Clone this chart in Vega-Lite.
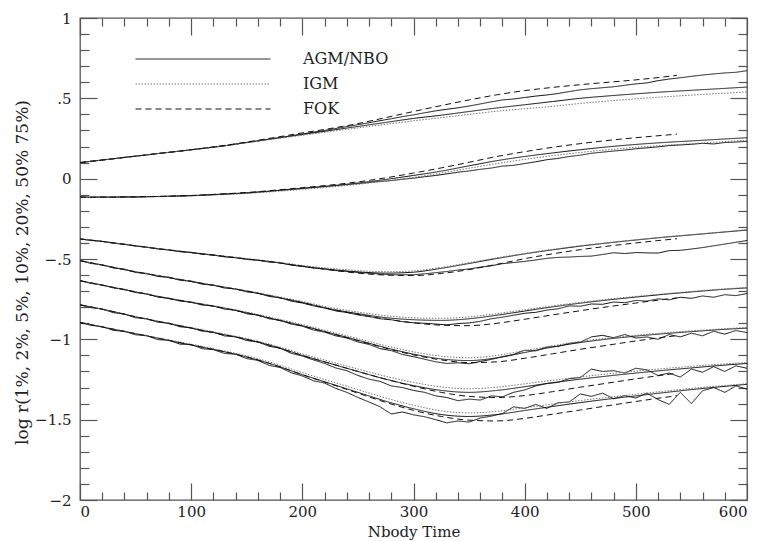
{
"$schema": "https://vega.github.io/schema/vega-lite/v6.json",
"width": 667, "height": 482,
"autosize": {"type": "none"},
"padding": {"left": 80, "top": 18, "right": 16, "bottom": 41},
"background": "white",
"config": {
  "view": {"stroke": "#555", "strokeWidth": 1.3},
  "font": "DejaVu Serif",
  "axis": {"grid": false, "domain": false, "tickColor": "#555", "tickWidth": 1.2, "labelFont": "DejaVu Serif", "titleFont": "DejaVu Serif", "labelColor": "#222", "titleColor": "#222", "labelFontSize": 15, "titleFontSize": 17, "titleFontWeight": "normal"},
  "legend": {"orient": "none", "legendX": 115, "legendY": 33, "symbolType": "M-10,0H10", "symbolSize": 182, "symbolStrokeWidth": 1, "labelOffset": 92, "labelFontSize": 16, "labelFont": "DejaVu Serif", "labelColor": "#222", "rowPadding": 9, "padding": 0}
},
"data": {"values": [
{"s":"NBO","m":"AGM/NBO","t":0,"p75":0.100,"p50":-0.115,"p20":-0.375,"p10":-0.51,"p5":-0.635,"p2":-0.785,"p1":-0.895},
{"s":"NBO","m":"AGM/NBO","t":10,"p75":0.109,"p50":-0.117,"p20":-0.385,"p10":-0.528,"p5":-0.652,"p2":-0.803,"p1":-0.913},
{"s":"NBO","m":"AGM/NBO","t":20,"p75":0.116,"p50":-0.114,"p20":-0.390,"p10":-0.536,"p5":-0.661,"p2":-0.811,"p1":-0.921},
{"s":"NBO","m":"AGM/NBO","t":30,"p75":0.124,"p50":-0.116,"p20":-0.402,"p10":-0.556,"p5":-0.680,"p2":-0.834,"p1":-0.944},
{"s":"NBO","m":"AGM/NBO","t":40,"p75":0.133,"p50":-0.113,"p20":-0.408,"p10":-0.563,"p5":-0.689,"p2":-0.842,"p1":-0.950},
{"s":"NBO","m":"AGM/NBO","t":50,"p75":0.140,"p50":-0.115,"p20":-0.420,"p10":-0.584,"p5":-0.709,"p2":-0.866,"p1":-0.972},
{"s":"NBO","m":"AGM/NBO","t":60,"p75":0.148,"p50":-0.112,"p20":-0.426,"p10":-0.590,"p5":-0.716,"p2":-0.871,"p1":-0.976},
{"s":"NBO","m":"AGM/NBO","t":70,"p75":0.157,"p50":-0.111,"p20":-0.438,"p10":-0.609,"p5":-0.737,"p2":-0.894,"p1":-1.002},
{"s":"NBO","m":"AGM/NBO","t":80,"p75":0.164,"p50":-0.110,"p20":-0.443,"p10":-0.613,"p5":-0.744,"p2":-0.899,"p1":-1.006},
{"s":"NBO","m":"AGM/NBO","t":90,"p75":0.171,"p50":-0.108,"p20":-0.455,"p10":-0.633,"p5":-0.762,"p2":-0.922,"p1":-1.030},
{"s":"NBO","m":"AGM/NBO","t":100,"p75":0.180,"p50":-0.106,"p20":-0.459,"p10":-0.637,"p5":-0.768,"p2":-0.928,"p1":-1.032},
{"s":"NBO","m":"AGM/NBO","t":110,"p75":0.188,"p50":-0.104,"p20":-0.470,"p10":-0.657,"p5":-0.787,"p2":-0.950,"p1":-1.058},
{"s":"NBO","m":"AGM/NBO","t":120,"p75":0.197,"p50":-0.100,"p20":-0.475,"p10":-0.662,"p5":-0.792,"p2":-0.955,"p1":-1.064},
{"s":"NBO","m":"AGM/NBO","t":130,"p75":0.205,"p50":-0.097,"p20":-0.487,"p10":-0.681,"p5":-0.812,"p2":-0.979,"p1":-1.088},
{"s":"NBO","m":"AGM/NBO","t":140,"p75":0.215,"p50":-0.093,"p20":-0.491,"p10":-0.686,"p5":-0.818,"p2":-0.984,"p1":-1.092},
{"s":"NBO","m":"AGM/NBO","t":150,"p75":0.226,"p50":-0.090,"p20":-0.503,"p10":-0.705,"p5":-0.841,"p2":-1.008,"p1":-1.120},
{"s":"NBO","m":"AGM/NBO","t":160,"p75":0.235,"p50":-0.084,"p20":-0.507,"p10":-0.712,"p5":-0.848,"p2":-1.016,"p1":-1.131},
{"s":"NBO","m":"AGM/NBO","t":170,"p75":0.246,"p50":-0.079,"p20":-0.519,"p10":-0.733,"p5":-0.872,"p2":-1.043,"p1":-1.162},
{"s":"NBO","m":"AGM/NBO","t":180,"p75":0.256,"p50":-0.072,"p20":-0.524,"p10":-0.741,"p5":-0.881,"p2":-1.055,"p1":-1.175},
{"s":"NBO","m":"AGM/NBO","t":190,"p75":0.267,"p50":-0.067,"p20":-0.538,"p10":-0.762,"p5":-0.905,"p2":-1.087,"p1":-1.208},
{"s":"NBO","m":"AGM/NBO","t":200,"p75":0.278,"p50":-0.061,"p20":-0.546,"p10":-0.774,"p5":-0.918,"p2":-1.104,"p1":-1.228},
{"s":"NBO","m":"AGM/NBO","t":210,"p75":0.289,"p50":-0.055,"p20":-0.556,"p10":-0.792,"p5":-0.942,"p2":-1.128,"p1":-1.258},
{"s":"NBO","m":"AGM/NBO","t":220,"p75":0.300,"p50":-0.049,"p20":-0.562,"p10":-0.805,"p5":-0.955,"p2":-1.150,"p1":-1.272},
{"s":"NBO","m":"AGM/NBO","t":230,"p75":0.312,"p50":-0.043,"p20":-0.572,"p10":-0.823,"p5":-0.978,"p2":-1.178,"p1":-1.305},
{"s":"NBO","m":"AGM/NBO","t":240,"p75":0.324,"p50":-0.037,"p20":-0.577,"p10":-0.833,"p5":-0.992,"p2":-1.195,"p1":-1.330},
{"s":"NBO","m":"AGM/NBO","t":250,"p75":0.336,"p50":-0.031,"p20":-0.584,"p10":-0.848,"p5":-1.016,"p2":-1.225,"p1":-1.362},
{"s":"NBO","m":"AGM/NBO","t":260,"p75":0.348,"p50":-0.024,"p20":-0.588,"p10":-0.858,"p5":-1.032,"p2":-1.248,"p1":-1.390},
{"s":"NBO","m":"AGM/NBO","t":270,"p75":0.361,"p50":-0.017,"p20":-0.594,"p10":-0.872,"p5":-1.058,"p2":-1.262,"p1":-1.420},
{"s":"NBO","m":"AGM/NBO","t":280,"p75":0.373,"p50":-0.012,"p20":-0.598,"p10":-0.878,"p5":-1.070,"p2":-1.290,"p1":-1.465},
{"s":"NBO","m":"AGM/NBO","t":290,"p75":0.386,"p50":-0.004,"p20":-0.598,"p10":-0.890,"p5":-1.094,"p2":-1.300,"p1":-1.452},
{"s":"NBO","m":"AGM/NBO","t":300,"p75":0.397,"p50":0.003,"p20":-0.598,"p10":-0.897,"p5":-1.108,"p2":-1.318,"p1":-1.470},
{"s":"NBO","m":"AGM/NBO","t":310,"p75":0.410,"p50":0.012,"p20":-0.592,"p10":-0.900,"p5":-1.124,"p2":-1.330,"p1":-1.482},
{"s":"NBO","m":"AGM/NBO","t":320,"p75":0.422,"p50":0.020,"p20":-0.585,"p10":-0.905,"p5":-1.140,"p2":-1.352,"p1":-1.500},
{"s":"NBO","m":"AGM/NBO","t":330,"p75":0.432,"p50":0.030,"p20":-0.578,"p10":-0.910,"p5":-1.150,"p2":-1.362,"p1":-1.520},
{"s":"NBO","m":"AGM/NBO","t":340,"p75":0.441,"p50":0.040,"p20":-0.569,"p10":-0.902,"p5":-1.146,"p2":-1.382,"p1":-1.508},
{"s":"NBO","m":"AGM/NBO","t":350,"p75":0.452,"p50":0.048,"p20":-0.562,"p10":-0.898,"p5":-1.152,"p2":-1.372,"p1":-1.515},
{"s":"NBO","m":"AGM/NBO","t":360,"p75":0.465,"p50":0.058,"p20":-0.551,"p10":-0.888,"p5":-1.138,"p2":-1.378,"p1":-1.490},
{"s":"NBO","m":"AGM/NBO","t":370,"p75":0.478,"p50":0.066,"p20":-0.542,"p10":-0.872,"p5":-1.125,"p2":-1.352,"p1":-1.478},
{"s":"NBO","m":"AGM/NBO","t":380,"p75":0.490,"p50":0.078,"p20":-0.529,"p10":-0.862,"p5":-1.108,"p2":-1.358,"p1":-1.462},
{"s":"NBO","m":"AGM/NBO","t":390,"p75":0.496,"p50":0.083,"p20":-0.522,"p10":-0.850,"p5":-1.094,"p2":-1.330,"p1":-1.420},
{"s":"NBO","m":"AGM/NBO","t":400,"p75":0.505,"p50":0.094,"p20":-0.515,"p10":-0.838,"p5":-1.068,"p2":-1.315,"p1":-1.430},
{"s":"NBO","m":"AGM/NBO","t":410,"p75":0.514,"p50":0.105,"p20":-0.506,"p10":-0.832,"p5":-1.072,"p2":-1.290,"p1":-1.405},
{"s":"NBO","m":"AGM/NBO","t":420,"p75":0.521,"p50":0.118,"p20":-0.496,"p10":-0.818,"p5":-1.048,"p2":-1.275,"p1":-1.430},
{"s":"NBO","m":"AGM/NBO","t":430,"p75":0.530,"p50":0.126,"p20":-0.490,"p10":-0.810,"p5":-1.044,"p2":-1.268,"p1":-1.395},
{"s":"NBO","m":"AGM/NBO","t":440,"p75":0.542,"p50":0.138,"p20":-0.488,"p10":-0.792,"p5":-1.025,"p2":-1.245,"p1":-1.390},
{"s":"NBO","m":"AGM/NBO","t":450,"p75":0.553,"p50":0.146,"p20":-0.484,"p10":-0.794,"p5":-1.018,"p2":-1.238,"p1":-1.340},
{"s":"NBO","m":"AGM/NBO","t":460,"p75":0.560,"p50":0.158,"p20":-0.482,"p10":-0.780,"p5":-0.985,"p2":-1.185,"p1":-1.355},
{"s":"NBO","m":"AGM/NBO","t":470,"p75":0.566,"p50":0.165,"p20":-0.472,"p10":-0.782,"p5":-0.975,"p2":-1.200,"p1":-1.335},
{"s":"NBO","m":"AGM/NBO","t":480,"p75":0.572,"p50":0.172,"p20":-0.461,"p10":-0.768,"p5":-0.990,"p2":-1.195,"p1":-1.370},
{"s":"NBO","m":"AGM/NBO","t":490,"p75":0.581,"p50":0.178,"p20":-0.466,"p10":-0.772,"p5":-0.970,"p2":-1.210,"p1":-1.350},
{"s":"NBO","m":"AGM/NBO","t":500,"p75":0.590,"p50":0.186,"p20":-0.460,"p10":-0.758,"p5":-0.992,"p2":-1.180,"p1":-1.365},
{"s":"NBO","m":"AGM/NBO","t":510,"p75":0.596,"p50":0.192,"p20":-0.462,"p10":-0.762,"p5":-0.985,"p2":-1.190,"p1":-1.335},
{"s":"NBO","m":"AGM/NBO","t":520,"p75":0.610,"p50":0.198,"p20":-0.463,"p10":-0.748,"p5":-1.000,"p2":-1.225,"p1":-1.375},
{"s":"NBO","m":"AGM/NBO","t":530,"p75":0.620,"p50":0.206,"p20":-0.448,"p10":-0.754,"p5":-0.970,"p2":-1.210,"p1":-1.405},
{"s":"NBO","m":"AGM/NBO","t":540,"p75":0.628,"p50":0.210,"p20":-0.446,"p10":-0.738,"p5":-0.985,"p2":-1.235,"p1":-1.330},
{"s":"NBO","m":"AGM/NBO","t":550,"p75":0.637,"p50":0.214,"p20":-0.438,"p10":-0.745,"p5":-0.962,"p2":-1.185,"p1":-1.400},
{"s":"NBO","m":"AGM/NBO","t":560,"p75":0.645,"p50":0.220,"p20":-0.429,"p10":-0.730,"p5":-0.978,"p2":-1.205,"p1":-1.320},
{"s":"NBO","m":"AGM/NBO","t":570,"p75":0.652,"p50":0.216,"p20":-0.418,"p10":-0.738,"p5":-0.950,"p2":-1.170,"p1":-1.300},
{"s":"NBO","m":"AGM/NBO","t":580,"p75":0.658,"p50":0.225,"p20":-0.407,"p10":-0.722,"p5":-0.968,"p2":-1.200,"p1":-1.330},
{"s":"NBO","m":"AGM/NBO","t":590,"p75":0.662,"p50":0.228,"p20":-0.396,"p10":-0.728,"p5":-0.945,"p2":-1.165,"p1":-1.290},
{"s":"NBO","m":"AGM/NBO","t":600,"p75":0.672,"p50":0.232,"p20":-0.385,"p10":-0.715,"p5":-0.958,"p2":-1.180,"p1":-1.310},
{"s":"AGM","m":"AGM/NBO","t":0,"p75":0.10,"p50":-0.115,"p20":-0.375,"p10":-0.51,"p5":-0.635,"p2":-0.785,"p1":-0.895},
{"s":"AGM","m":"AGM/NBO","t":25,"p75":0.12,"p50":-0.115,"p20":-0.395,"p10":-0.545,"p5":-0.67,"p2":-0.82,"p1":-0.93},
{"s":"AGM","m":"AGM/NBO","t":50,"p75":0.14,"p50":-0.113,"p20":-0.418,"p10":-0.58,"p5":-0.705,"p2":-0.86,"p1":-0.965},
{"s":"AGM","m":"AGM/NBO","t":75,"p75":0.16,"p50":-0.11,"p20":-0.44,"p10":-0.61,"p5":-0.74,"p2":-0.895,"p1":-1.0},
{"s":"AGM","m":"AGM/NBO","t":100,"p75":0.18,"p50":-0.105,"p20":-0.46,"p10":-0.64,"p5":-0.77,"p2":-0.93,"p1":-1.035},
{"s":"AGM","m":"AGM/NBO","t":125,"p75":0.20,"p50":-0.097,"p20":-0.48,"p10":-0.67,"p5":-0.80,"p2":-0.965,"p1":-1.07},
{"s":"AGM","m":"AGM/NBO","t":150,"p75":0.225,"p50":-0.088,"p20":-0.50,"p10":-0.70,"p5":-0.835,"p2":-1.0,"p1":-1.11},
{"s":"AGM","m":"AGM/NBO","t":175,"p75":0.25,"p50":-0.075,"p20":-0.52,"p10":-0.735,"p5":-0.875,"p2":-1.045,"p1":-1.16},
{"s":"AGM","m":"AGM/NBO","t":200,"p75":0.275,"p50":-0.06,"p20":-0.545,"p10":-0.77,"p5":-0.915,"p2":-1.1,"p1":-1.22},
{"s":"AGM","m":"AGM/NBO","t":225,"p75":0.30,"p50":-0.045,"p20":-0.565,"p10":-0.81,"p5":-0.96,"p2":-1.15,"p1":-1.275},
{"s":"AGM","m":"AGM/NBO","t":250,"p75":0.325,"p50":-0.027,"p20":-0.58,"p10":-0.84,"p5":-1.005,"p2":-1.2,"p1":-1.33},
{"s":"AGM","m":"AGM/NBO","t":275,"p75":0.35,"p50":-0.005,"p20":-0.588,"p10":-0.865,"p5":-1.052,"p2":-1.248,"p1":-1.385},
{"s":"AGM","m":"AGM/NBO","t":300,"p75":0.375,"p50":0.02,"p20":-0.582,"p10":-0.878,"p5":-1.092,"p2":-1.288,"p1":-1.432},
{"s":"AGM","m":"AGM/NBO","t":325,"p75":0.395,"p50":0.047,"p20":-0.558,"p10":-0.882,"p5":-1.122,"p2":-1.318,"p1":-1.468},
{"s":"AGM","m":"AGM/NBO","t":350,"p75":0.418,"p50":0.08,"p20":-0.528,"p10":-0.872,"p5":-1.132,"p2":-1.33,"p1":-1.48},
{"s":"AGM","m":"AGM/NBO","t":375,"p75":0.44,"p50":0.112,"p20":-0.497,"p10":-0.85,"p5":-1.115,"p2":-1.318,"p1":-1.468},
{"s":"AGM","m":"AGM/NBO","t":400,"p75":0.46,"p50":0.138,"p20":-0.468,"p10":-0.824,"p5":-1.082,"p2":-1.295,"p1":-1.443},
{"s":"AGM","m":"AGM/NBO","t":425,"p75":0.48,"p50":0.16,"p20":-0.443,"p10":-0.798,"p5":-1.048,"p2":-1.27,"p1":-1.418},
{"s":"AGM","m":"AGM/NBO","t":450,"p75":0.50,"p50":0.18,"p20":-0.42,"p10":-0.775,"p5":-1.02,"p2":-1.248,"p1":-1.394},
{"s":"AGM","m":"AGM/NBO","t":475,"p75":0.515,"p50":0.198,"p20":-0.40,"p10":-0.755,"p5":-0.998,"p2":-1.228,"p1":-1.372},
{"s":"AGM","m":"AGM/NBO","t":500,"p75":0.528,"p50":0.213,"p20":-0.382,"p10":-0.737,"p5":-0.98,"p2":-1.21,"p1":-1.352},
{"s":"AGM","m":"AGM/NBO","t":525,"p75":0.54,"p50":0.225,"p20":-0.365,"p10":-0.72,"p5":-0.965,"p2":-1.193,"p1":-1.332},
{"s":"AGM","m":"AGM/NBO","t":550,"p75":0.55,"p50":0.235,"p20":-0.35,"p10":-0.705,"p5":-0.952,"p2":-1.178,"p1":-1.313},
{"s":"AGM","m":"AGM/NBO","t":575,"p75":0.56,"p50":0.245,"p20":-0.335,"p10":-0.691,"p5":-0.94,"p2":-1.163,"p1":-1.296},
{"s":"AGM","m":"AGM/NBO","t":600,"p75":0.57,"p50":0.255,"p20":-0.32,"p10":-0.68,"p5":-0.93,"p2":-1.15,"p1":-1.28},
{"s":"IGM","m":"IGM","t":0,"p75":0.10,"p50":-0.117,"p20":-0.375,"p10":-0.51,"p5":-0.635,"p2":-0.785,"p1":-0.895},
{"s":"IGM","m":"IGM","t":25,"p75":0.12,"p50":-0.117,"p20":-0.395,"p10":-0.544,"p5":-0.669,"p2":-0.819,"p1":-0.929},
{"s":"IGM","m":"IGM","t":50,"p75":0.14,"p50":-0.115,"p20":-0.417,"p10":-0.578,"p5":-0.703,"p2":-0.858,"p1":-0.963},
{"s":"IGM","m":"IGM","t":75,"p75":0.16,"p50":-0.112,"p20":-0.438,"p10":-0.608,"p5":-0.737,"p2":-0.892,"p1":-0.997},
{"s":"IGM","m":"IGM","t":100,"p75":0.18,"p50":-0.107,"p20":-0.458,"p10":-0.638,"p5":-0.767,"p2":-0.926,"p1":-1.03},
{"s":"IGM","m":"IGM","t":125,"p75":0.20,"p50":-0.10,"p20":-0.478,"p10":-0.668,"p5":-0.797,"p2":-0.96,"p1":-1.065},
{"s":"IGM","m":"IGM","t":150,"p75":0.223,"p50":-0.092,"p20":-0.497,"p10":-0.697,"p5":-0.83,"p2":-0.995,"p1":-1.103},
{"s":"IGM","m":"IGM","t":175,"p75":0.247,"p50":-0.08,"p20":-0.517,"p10":-0.73,"p5":-0.868,"p2":-1.038,"p1":-1.15},
{"s":"IGM","m":"IGM","t":200,"p75":0.27,"p50":-0.067,"p20":-0.54,"p10":-0.764,"p5":-0.908,"p2":-1.09,"p1":-1.207},
{"s":"IGM","m":"IGM","t":225,"p75":0.293,"p50":-0.052,"p20":-0.558,"p10":-0.802,"p5":-0.952,"p2":-1.138,"p1":-1.26},
{"s":"IGM","m":"IGM","t":250,"p75":0.316,"p50":-0.035,"p20":-0.572,"p10":-0.83,"p5":-0.995,"p2":-1.185,"p1":-1.313},
{"s":"IGM","m":"IGM","t":275,"p75":0.338,"p50":-0.015,"p20":-0.579,"p10":-0.853,"p5":-1.04,"p2":-1.23,"p1":-1.365},
{"s":"IGM","m":"IGM","t":300,"p75":0.36,"p50":0.008,"p20":-0.574,"p10":-0.866,"p5":-1.078,"p2":-1.268,"p1":-1.41},
{"s":"IGM","m":"IGM","t":325,"p75":0.38,"p50":0.035,"p20":-0.552,"p10":-0.869,"p5":-1.105,"p2":-1.296,"p1":-1.445},
{"s":"IGM","m":"IGM","t":350,"p75":0.40,"p50":0.065,"p20":-0.523,"p10":-0.86,"p5":-1.115,"p2":-1.308,"p1":-1.458},
{"s":"IGM","m":"IGM","t":375,"p75":0.42,"p50":0.094,"p20":-0.493,"p10":-0.84,"p5":-1.1,"p2":-1.298,"p1":-1.448},
{"s":"IGM","m":"IGM","t":400,"p75":0.435,"p50":0.12,"p20":-0.465,"p10":-0.816,"p5":-1.07,"p2":-1.277,"p1":-1.426},
{"s":"IGM","m":"IGM","t":425,"p75":0.45,"p50":0.143,"p20":-0.44,"p10":-0.792,"p5":-1.04,"p2":-1.255,"p1":-1.403},
{"s":"IGM","m":"IGM","t":450,"p75":0.468,"p50":0.163,"p20":-0.418,"p10":-0.77,"p5":-1.013,"p2":-1.234,"p1":-1.381},
{"s":"IGM","m":"IGM","t":475,"p75":0.483,"p50":0.18,"p20":-0.398,"p10":-0.75,"p5":-0.992,"p2":-1.215,"p1":-1.361},
{"s":"IGM","m":"IGM","t":500,"p75":0.497,"p50":0.195,"p20":-0.38,"p10":-0.733,"p5":-0.975,"p2":-1.198,"p1":-1.342},
{"s":"IGM","m":"IGM","t":525,"p75":0.509,"p50":0.207,"p20":-0.363,"p10":-0.717,"p5":-0.96,"p2":-1.182,"p1":-1.323},
{"s":"IGM","m":"IGM","t":550,"p75":0.52,"p50":0.218,"p20":-0.348,"p10":-0.702,"p5":-0.947,"p2":-1.168,"p1":-1.305},
{"s":"IGM","m":"IGM","t":575,"p75":0.53,"p50":0.229,"p20":-0.333,"p10":-0.688,"p5":-0.936,"p2":-1.155,"p1":-1.29},
{"s":"IGM","m":"IGM","t":600,"p75":0.54,"p50":0.24,"p20":-0.318,"p10":-0.677,"p5":-0.926,"p2":-1.145,"p1":-1.276},
{"s":"FOK","m":"FOK","t":0,"p75":0.10,"p50":-0.115,"p20":-0.375,"p10":-0.51,"p5":-0.635,"p2":-0.785,"p1":-0.895},
{"s":"FOK","m":"FOK","t":25,"p75":0.12,"p50":-0.115,"p20":-0.395,"p10":-0.545,"p5":-0.67,"p2":-0.82,"p1":-0.93},
{"s":"FOK","m":"FOK","t":50,"p75":0.14,"p50":-0.113,"p20":-0.418,"p10":-0.58,"p5":-0.705,"p2":-0.86,"p1":-0.965},
{"s":"FOK","m":"FOK","t":75,"p75":0.16,"p50":-0.11,"p20":-0.44,"p10":-0.61,"p5":-0.74,"p2":-0.895,"p1":-1.0},
{"s":"FOK","m":"FOK","t":100,"p75":0.18,"p50":-0.105,"p20":-0.46,"p10":-0.64,"p5":-0.77,"p2":-0.93,"p1":-1.035},
{"s":"FOK","m":"FOK","t":125,"p75":0.202,"p50":-0.096,"p20":-0.48,"p10":-0.67,"p5":-0.80,"p2":-0.965,"p1":-1.07},
{"s":"FOK","m":"FOK","t":150,"p75":0.228,"p50":-0.086,"p20":-0.50,"p10":-0.70,"p5":-0.835,"p2":-1.0,"p1":-1.11},
{"s":"FOK","m":"FOK","t":175,"p75":0.256,"p50":-0.072,"p20":-0.52,"p10":-0.735,"p5":-0.875,"p2":-1.045,"p1":-1.16},
{"s":"FOK","m":"FOK","t":200,"p75":0.285,"p50":-0.056,"p20":-0.545,"p10":-0.772,"p5":-0.917,"p2":-1.1,"p1":-1.22},
{"s":"FOK","m":"FOK","t":225,"p75":0.312,"p50":-0.04,"p20":-0.568,"p10":-0.812,"p5":-0.962,"p2":-1.15,"p1":-1.277},
{"s":"FOK","m":"FOK","t":250,"p75":0.343,"p50":-0.02,"p20":-0.588,"p10":-0.845,"p5":-1.008,"p2":-1.2,"p1":-1.335},
{"s":"FOK","m":"FOK","t":275,"p75":0.38,"p50":0.005,"p20":-0.60,"p10":-0.874,"p5":-1.055,"p2":-1.248,"p1":-1.392},
{"s":"FOK","m":"FOK","t":300,"p75":0.418,"p50":0.035,"p20":-0.603,"p10":-0.897,"p5":-1.097,"p2":-1.292,"p1":-1.442},
{"s":"FOK","m":"FOK","t":325,"p75":0.455,"p50":0.067,"p20":-0.59,"p10":-0.912,"p5":-1.128,"p2":-1.33,"p1":-1.48},
{"s":"FOK","m":"FOK","t":350,"p75":0.49,"p50":0.102,"p20":-0.566,"p10":-0.915,"p5":-1.145,"p2":-1.355,"p1":-1.503},
{"s":"FOK","m":"FOK","t":375,"p75":0.522,"p50":0.138,"p20":-0.533,"p10":-0.9,"p5":-1.14,"p2":-1.362,"p1":-1.508},
{"s":"FOK","m":"FOK","t":400,"p75":0.548,"p50":0.168,"p20":-0.498,"p10":-0.875,"p5":-1.118,"p2":-1.35,"p1":-1.492},
{"s":"FOK","m":"FOK","t":425,"p75":0.568,"p50":0.195,"p20":-0.468,"p10":-0.848,"p5":-1.09,"p2":-1.326,"p1":-1.466},
{"s":"FOK","m":"FOK","t":450,"p75":0.585,"p50":0.218,"p20":-0.442,"p10":-0.822,"p5":-1.062,"p2":-1.298,"p1":-1.44},
{"s":"FOK","m":"FOK","t":475,"p75":0.60,"p50":0.238,"p20":-0.42,"p10":-0.797,"p5":-1.036,"p2":-1.272,"p1":-1.413},
{"s":"FOK","m":"FOK","t":500,"p75":0.615,"p50":0.255,"p20":-0.4,"p10":-0.774,"p5":-1.01,"p2":-1.246,"p1":-1.387},
{"s":"FOK","m":"FOK","t":525,"p75":0.633,"p50":0.27,"p20":-0.382,"p10":-0.752,"p5":-0.987,"p2":-1.222,"p1":-1.362},
{"s":"FOK","m":"FOK","t":537,"p75":0.643,"p50":0.277,"p20":-0.374,"p10":-0.742,"p5":-0.977,"p2":-1.211,"p1":-1.351}
]},
"transform": [{"fold": ["p1","p2","p5","p10","p20","p50","p75"], "as": ["pct","y"]}],
"layer": [
  {
    "transform": [{"filter": "datum.s === 'NBO'"}],
    "mark": {"type": "line", "strokeWidth": 1, "interpolate": "linear"},
    "encoding": {
      "x": {"field": "t", "type": "quantitative", "scale": {"domain": [0,600], "nice": false, "zero": false},
            "axis": {"orient": "bottom", "values": [0,100,200,300,400,500,600], "tickSize": -17, "labelPadding": 21, "title": "Nbody Time", "titleFontSize": 15, "titleBaseline": "alphabetic", "titleY": 36}},
      "y": {"field": "y", "type": "quantitative", "scale": {"domain": [-2,1], "nice": false, "zero": false},
            "axis": {"orient": "left", "values": [-2,-1.5,-1,-0.5,0,0.5,1], "tickSize": -17, "labelPadding": 26, "format": "~g", "title": "log r(1%, 2%, 5%, 10%, 20%, 50% 75%)", "titlePadding": 3, "titleY": 254,
                     "labelExpr": "datum.value === 0.5 ? '.5' : (datum.value === -0.5 ? '\u2212.5' : datum.label)"}},
      "detail": {"field": "pct"},
      "color": {"field": "m", "type": "nominal", "scale": {"domain": ["AGM/NBO","IGM","FOK"], "range": ["#111111","#777777","#111111"]}, "legend": {"title": null}},
      "strokeDash": {"field": "m", "type": "nominal", "scale": {"domain": ["AGM/NBO","IGM","FOK"], "range": [[1,0],[1.5,1.5],[6,4]]}, "legend": {"title": null}}
    }
  },
  {
    "transform": [{"filter": "datum.s === 'AGM'"}],
    "mark": {"type": "line", "strokeWidth": 1, "interpolate": "monotone"},
    "encoding": {
      "x": {"field": "t", "type": "quantitative",
            "axis": {"orient": "bottom", "values": [20,40,60,80,120,140,160,180,220,240,260,280,320,340,360,380,420,440,460,480,520,540,560,580], "tickSize": -8, "labels": false, "title": null}},
      "y": {"field": "y", "type": "quantitative",
            "axis": {"orient": "left", "values": [-1.9,-1.8,-1.7,-1.6,-1.4,-1.3,-1.2,-1.1,-0.9,-0.8,-0.7,-0.6,-0.4,-0.3,-0.2,-0.1,0.1,0.2,0.3,0.4,0.6,0.7,0.8,0.9], "tickSize": -9, "labels": false, "title": null}},
      "detail": {"field": "pct"},
      "color": {"field": "m", "type": "nominal", "legend": {"title": null}},
      "strokeDash": {"field": "m", "type": "nominal", "legend": {"title": null}}
    }
  },
  {
    "transform": [{"filter": "datum.s === 'IGM'"}],
    "mark": {"type": "line", "strokeWidth": 1, "interpolate": "monotone"},
    "encoding": {
      "x": {"field": "t", "type": "quantitative",
            "axis": {"orient": "top", "values": [0,100,200,300,400,500,600], "tickSize": -17, "labels": false, "title": null}},
      "y": {"field": "y", "type": "quantitative",
            "axis": {"orient": "right", "values": [-2,-1.5,-1,-0.5,0,0.5,1], "tickSize": -17, "labels": false, "title": null}},
      "detail": {"field": "pct"},
      "color": {"field": "m", "type": "nominal", "legend": {"title": null}},
      "strokeDash": {"field": "m", "type": "nominal", "legend": {"title": null}}
    }
  },
  {
    "transform": [{"filter": "datum.s === 'FOK'"}],
    "mark": {"type": "line", "strokeWidth": 1, "interpolate": "monotone"},
    "encoding": {
      "x": {"field": "t", "type": "quantitative",
            "axis": {"orient": "top", "values": [20,40,60,80,120,140,160,180,220,240,260,280,320,340,360,380,420,440,460,480,520,540,560,580], "tickSize": -8, "labels": false, "title": null}},
      "y": {"field": "y", "type": "quantitative",
            "axis": {"orient": "right", "values": [-1.9,-1.8,-1.7,-1.6,-1.4,-1.3,-1.2,-1.1,-0.9,-0.8,-0.7,-0.6,-0.4,-0.3,-0.2,-0.1,0.1,0.2,0.3,0.4,0.6,0.7,0.8,0.9], "tickSize": -9, "labels": false, "title": null}},
      "detail": {"field": "pct"},
      "color": {"field": "m", "type": "nominal", "legend": {"title": null}},
      "strokeDash": {"field": "m", "type": "nominal", "legend": {"title": null}}
    }
  }
],
"resolve": {"axis": {"x": "independent", "y": "independent"}}
}
